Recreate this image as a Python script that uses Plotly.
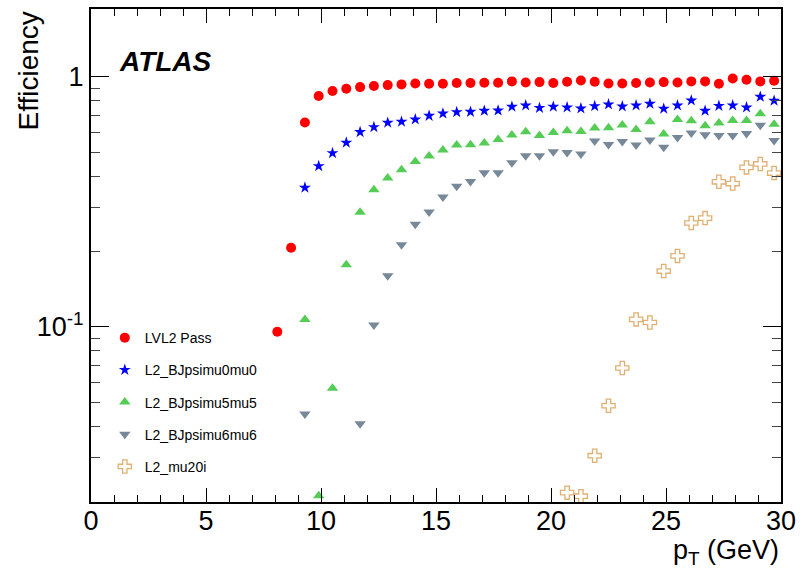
import plotly.graph_objects as go

# bin centres (GeV)
pt = [8.1 + 0.6 * i for i in range(37)]  # 8.1 ... 29.7

lvl2_pass = [0.0955, 0.207, 0.656, 0.837, 0.877, 0.895, 0.909, 0.918, 0.926, 0.932,
             0.940, 0.938, 0.938, 0.944, 0.944, 0.946, 0.946, 0.958, 0.949, 0.952,
             0.944, 0.955, 0.966, 0.955, 0.940, 0.940, 0.944, 0.949, 0.952, 0.949,
             0.958, 0.958, 0.938, 0.984, 0.973, 0.958, 0.964]

pt_b0 = pt[2:]
bjpsi_mu0mu0 = [0.360, 0.439, 0.495, 0.545, 0.601, 0.629, 0.655, 0.661, 0.675, 0.698,
                0.713, 0.722, 0.724, 0.731, 0.733, 0.759, 0.768, 0.751, 0.759, 0.754,
                0.747, 0.763, 0.775, 0.761, 0.768, 0.780, 0.745, 0.768, 0.804, 0.731,
                0.765, 0.768, 0.754, 0.832, 0.802]

pt_b5 = pt[2:]
bjpsi_mu5mu5 = [0.107, 0.0211, 0.0567, 0.177, 0.287, 0.353, 0.394, 0.425, 0.458, 0.482,
                0.509, 0.533, 0.535, 0.543, 0.561, 0.585, 0.603, 0.582, 0.599, 0.608,
                0.604, 0.624, 0.625, 0.641, 0.615, 0.661, 0.590, 0.675, 0.667, 0.637,
                0.653, 0.669, 0.669, 0.711, 0.645]

pt_b6 = [9.3] + pt[6:]
bjpsi_mu6mu6 = [0.0448, 0.0409, 0.1016, 0.160, 0.213, 0.257, 0.288, 0.330, 0.365, 0.381,
                0.413, 0.413, 0.453, 0.483, 0.483, 0.501, 0.498, 0.491, 0.553, 0.536,
                0.551, 0.533, 0.558, 0.522, 0.572, 0.596, 0.586, 0.582, 0.582, 0.593,
                0.639, 0.556]

pt_mu20 = pt[21:]
mu20i = [0.0217, 0.0210, 0.0305, 0.0483, 0.0684, 0.107, 0.104, 0.167, 0.192, 0.260,
         0.272, 0.380, 0.374, 0.434, 0.448, 0.412]

x_ticks = [0, 5, 10, 15, 20, 25, 30]
y_ticks = [0.1, 1]
y_ticktext = ["10<sup>-1</sup>", "1"]
y_minor = [0.02, 0.03, 0.04, 0.05, 0.06, 0.07, 0.08, 0.09,
           0.2, 0.3, 0.4, 0.5, 0.6, 0.7, 0.8, 0.9]

FONT = "Liberation Sans, Arial, sans-serif"

fig = go.Figure()
fig.add_trace(go.Scatter(x=pt, y=lvl2_pass, mode="markers", name="LVL2 Pass",
                         legendgroup="a",
                         marker=dict(symbol="circle", size=10, color="#ff0000")))
fig.add_trace(go.Scatter(x=pt_b0, y=bjpsi_mu0mu0, mode="markers", name="L2_BJpsimu0mu0",
                         legendgroup="b",
                         marker=dict(symbol="star", size=9, color="#0000ff")))
fig.add_trace(go.Scatter(x=pt_b5, y=bjpsi_mu5mu5, mode="markers", name="L2_BJpsimu5mu5",
                         legendgroup="c",
                         marker=dict(symbol="triangle-up", size=10, color="#55cc55")))
fig.add_trace(go.Scatter(x=pt_b6, y=bjpsi_mu6mu6, mode="markers", name="L2_BJpsimu6mu6",
                         legendgroup="d",
                         marker=dict(symbol="triangle-down", size=10, color="#778899")))
fig.add_trace(go.Scatter(x=pt_mu20, y=mu20i, mode="markers", name="L2_mu20i",
                         legendgroup="e",
                         marker=dict(symbol="cross-open", size=11, color="#e0b070",
                                     line=dict(width=1.3, color="#e0b070"))))

fig.update_layout(
    width=800, height=568,
    margin=dict(l=91, r=19, t=9, b=66, autoexpand=False),
    paper_bgcolor="white", plot_bgcolor="white",
    font=dict(family=FONT, color="black"),
    legend=dict(x=0.02, y=0.365, xanchor="left", yanchor="top",
                font=dict(size=14, family=FONT), tracegroupgap=11,
                bgcolor="rgba(0,0,0,0)"),
    xaxis=dict(range=[0, 30], tickvals=x_ticks, ticks="inside", ticklen=14,
               tickwidth=1.2, tickcolor="black", showline=True, linecolor="black",
               linewidth=2, mirror="ticks", showgrid=False, zeroline=False,
               automargin=False, ticklabelstandoff=-6,
               tickfont=dict(size=27, family=FONT),
               minor=dict(dtick=1, ticks="inside", ticklen=7, tickwidth=1.2,
                          tickcolor="black", showgrid=False)),
    yaxis=dict(type="log", range=[-1.701, 0.271], tickvals=y_ticks, ticktext=y_ticktext,
               ticks="inside", ticklen=18, tickwidth=1.2, tickcolor="black",
               showline=True, linecolor="black", linewidth=2, mirror="ticks",
               showgrid=False, zeroline=False, automargin=False,
               tickfont=dict(size=27, family=FONT),
               minor=dict(tickvals=y_minor, ticks="inside", ticklen=9, tickwidth=1.2,
                          tickcolor="#444444", showgrid=False)),
    annotations=[
        dict(text="Efficiency", x=-0.0913, y=0.998, xref="paper", yref="paper",
             textangle=-90, xanchor="center", yanchor="top", showarrow=False,
             font=dict(size=28, family=FONT)),
        dict(text="p<sub>T</sub> (GeV)", x=1.0, y=-0.101, xref="paper", yref="paper",
             xanchor="right", yanchor="middle", showarrow=False,
             font=dict(size=27, family=FONT)),
        dict(text="<b><i>ATLAS</i></b>", x=0.038, y=0.8925, xref="paper", yref="paper",
             xanchor="left", yanchor="middle", showarrow=False,
             font=dict(size=28, family=FONT)),
    ],
)

fig.write_html("out.html", config={"displayModeBar": False},
               post_script="document.body.style.margin='0px';document.body.style.overflow='hidden';")
